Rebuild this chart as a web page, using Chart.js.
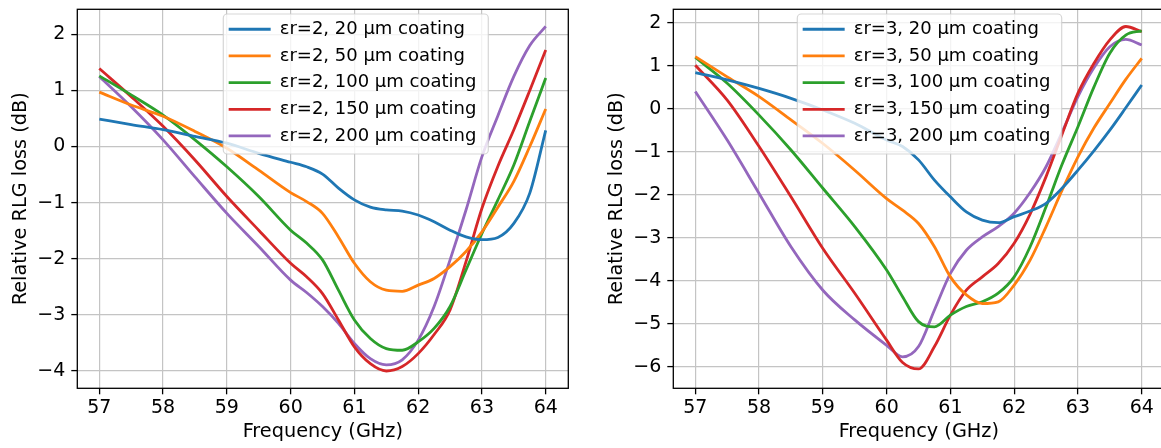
<!DOCTYPE html>
<html>
<head>
<meta charset="utf-8">
<script src="https://cdn.jsdelivr.net/npm/chart.js@4.4.1/dist/chart.umd.min.js"></script>
<style>
  html, body { margin: 0; padding: 0; background: #fff; overflow: hidden; width: 1161px; height: 448px; }
  #left { position: absolute; left: 0; top: 0; }
  #right { position: absolute; left: 580px; top: 0; }
</style>
</head>
<body>
<canvas id="left" width="580" height="448"></canvas>
<canvas id="right" width="600" height="448"></canvas>
<script>
// frequency grid (GHz), shared by both panels
const freq = [57, 57.5, 58, 58.5, 59, 59.5, 60, 60.25, 60.5, 60.75, 61, 61.25, 61.5, 61.75, 62, 62.25, 62.5, 62.75, 63, 63.25, 63.5, 63.75, 64];

// left panel, er = 2
const er2Labels = ['\u03b5r=2, 20 \u00b5m coating', '\u03b5r=2, 50 \u00b5m coating', '\u03b5r=2, 100 \u00b5m coating', '\u03b5r=2, 150 \u00b5m coating', '\u03b5r=2, 200 \u00b5m coating'];
const er2_20  = [0.49, 0.39, 0.30, 0.18, 0.06, -0.12, -0.28, -0.36, -0.49, -0.74, -0.95, -1.08, -1.13, -1.15, -1.22, -1.34, -1.49, -1.61, -1.66, -1.62, -1.37, -0.83, 0.29];
const er2_50  = [0.97, 0.74, 0.54, 0.27, -0.03, -0.42, -0.82, -0.98, -1.19, -1.61, -2.08, -2.41, -2.56, -2.58, -2.47, -2.35, -2.14, -1.87, -1.52, -1.08, -0.62, 0.0, 0.67];
const er2_100 = [1.26, 0.92, 0.56, 0.12, -0.36, -0.89, -1.49, -1.72, -2.02, -2.56, -3.09, -3.42, -3.60, -3.63, -3.48, -3.24, -2.85, -2.2, -1.55, -0.95, -0.33, 0.45, 1.22];
const er2_150 = [1.39, 0.89, 0.36, -0.24, -0.89, -1.49, -2.08, -2.32, -2.62, -3.09, -3.57, -3.87, -4.00, -3.92, -3.69, -3.35, -2.91, -2.05, -1.1, -0.35, 0.3, 1.0, 1.72];
const er2_200 = [1.25, 0.71, 0.12, -0.54, -1.19, -1.78, -2.38, -2.60, -2.85, -3.15, -3.51, -3.78, -3.89, -3.80, -3.45, -2.85, -2.02, -1.13, -0.18, 0.55, 1.25, 1.80, 2.14];

// right panel, er = 3
const er3Labels = ['\u03b5r=3, 20 \u00b5m coating', '\u03b5r=3, 50 \u00b5m coating', '\u03b5r=3, 100 \u00b5m coating', '\u03b5r=3, 150 \u00b5m coating', '\u03b5r=3, 200 \u00b5m coating'];
const er3_20  = [0.84, 0.67, 0.47, 0.24, -0.03, -0.34, -0.73, -0.88, -1.19, -1.66, -2.05, -2.40, -2.59, -2.65, -2.51, -2.38, -2.20, -1.85, -1.43, -0.98, -0.50, 0.02, 0.55];
const er3_50  = [1.21, 0.74, 0.28, -0.26, -0.81, -1.43, -2.09, -2.36, -2.67, -3.21, -3.91, -4.33, -4.53, -4.49, -4.10, -3.52, -2.74, -1.90, -1.12, -0.45, 0.12, 0.68, 1.17];
const er3_100 = [1.19, 0.59, -0.15, -0.96, -1.85, -2.74, -3.75, -4.37, -4.95, -5.07, -4.80, -4.60, -4.49, -4.29, -3.91, -3.21, -2.28, -1.30, -0.42, 0.50, 1.29, 1.71, 1.81];
const er3_150 = [1.01, 0.20, -0.88, -2.05, -3.25, -4.29, -5.38, -5.90, -6.05, -5.53, -4.80, -4.22, -3.91, -3.60, -3.13, -2.45, -1.58, -0.60, 0.36, 1.05, 1.60, 1.91, 1.79];
const er3_200 = [0.40, -0.73, -1.97, -3.21, -4.22, -4.91, -5.50, -5.77, -5.53, -4.68, -3.83, -3.29, -2.98, -2.74, -2.43, -1.95, -1.35, -0.55, 0.28, 0.95, 1.44, 1.61, 1.48];

const colors = ['#1f77b4', '#ff7f0e', '#2ca02c', '#d62728', '#9467bd'];
const FONT = 'DejaVu Sans';

// frame around the plot area + matplotlib style legend box (drawn over the lines)
const frameAndBox = {
    id: 'frameAndBox',
    beforeLayout(chart) {
        // draw the legend after the datasets, like matplotlib does
        const lg = chart.legend;
        lg._layers = () => [{ z: 1, draw: (area) => lg.draw(area) }];
    },
    afterLayout(chart, args, opts) {
        const lg = chart.legend;
        lg.left = opts.legendX;
        lg.top = opts.legendY;
        lg.right = lg.left + lg.width;
        lg.bottom = lg.top + lg.height;
    },
    afterDatasetsDraw(chart, args, opts) {
        const ctx = chart.ctx;
        const a = chart.chartArea;
        ctx.save();
        ctx.strokeStyle = '#000';
        ctx.lineWidth = 1.3;
        ctx.strokeRect(a.left, a.top, a.right - a.left, a.bottom - a.top);
        const b = opts.box;
        ctx.beginPath();
        ctx.roundRect(b.x, b.y, b.w, b.h, 4);
        ctx.fillStyle = 'rgba(255,255,255,0.8)';
        ctx.fill();
        ctx.strokeStyle = 'rgba(204,204,204,0.8)';
        ctx.lineWidth = 1.2;
        ctx.stroke();
        ctx.restore();
    }
};

function noPadding(s) {
    s.paddingTop = 0;
    s.paddingBottom = 0;
    s.paddingLeft = 0;
    s.paddingRight = 0;
}

function makeChart(id, labels, series, y, pad) {
    const ctx = document.getElementById(id).getContext('2d');
    return new Chart(ctx, {
        type: 'line',
        data: {
            datasets: series.map((s, i) => ({
                label: labels[i],
                data: freq.map((f, k) => ({ x: f, y: s[k] })),
                borderColor: colors[i],
                backgroundColor: colors[i],
                borderWidth: 2.8,
                pointRadius: 0,
                fill: false,
                cubicInterpolationMode: 'monotone'
            }))
        },
        options: {
            responsive: false,
            animation: false,
            layout: { padding: { top: 9.3, right: pad.right, bottom: 0, left: 0 } },
            scales: {
                x: {
                    type: 'linear',
                    min: 56.655,
                    max: 64.354,
                    afterFit: (s) => { s.height = 59.7; noPadding(s); },
                    border: { display: false },
                    grid: { color: '#c4c4c4', lineWidth: 1.2, tickColor: '#000', tickLength: 6, tickWidth: 1.3 },
                    ticks: { stepSize: 1, includeBounds: false, color: '#000', padding: 2, font: { family: FONT, size: 19 } },
                    title: { display: true, text: 'Frequency (GHz)', color: '#000', padding: { top: 0, bottom: 4 }, font: { family: FONT, size: 19.3 } }
                },
                y: {
                    min: y.min,
                    max: y.max,
                    afterFit: (s) => { s.width = pad.yWidth; noPadding(s); },
                    border: { display: false },
                    grid: { color: '#c4c4c4', lineWidth: 1.2, tickColor: '#000', tickLength: 6, tickWidth: 1.3 },
                    ticks: {
                        stepSize: 1, includeBounds: false, color: '#000', padding: 6,
                        font: { family: FONT, size: 19 },
                        callback: (v) => String(v).replace('-', '\u2212')
                    },
                    title: { display: true, text: 'Relative RLG loss (dB)', color: '#000', padding: { top: pad.titleTop, bottom: 0 }, font: { family: FONT, size: 19.3 } }
                }
            },
            plugins: {
                legend: {
                    position: 'chartArea',
                    align: 'start',
                    labels: {
                        usePointStyle: true,
                        pointStyle: 'line',
                        pointStyleWidth: 42,
                        padding: 8.67,
                        color: '#000',
                        font: { family: FONT, size: 18 }
                    }
                },
                tooltip: { enabled: false },
                frameAndBox: { legendX: pad.legendX, legendY: 11.6, box: pad.box }
            }
        },
        plugins: [frameAndBox]
    });
}

makeChart('left', er2Labels, [er2_20, er2_50, er2_100, er2_150, er2_200],
    { min: -4.308, max: 2.446 },
    { right: 11.7, yWidth: 77.3, titleTop: 9, legendX: 220, box: { x: 223.3, y: 14, w: 265, h: 140 } });

makeChart('right', er3Labels, [er3_20, er3_50, er3_100, er3_150, er3_200],
    { min: -6.50, max: 2.31 },
    { right: 15.7, yWidth: 93.3, titleTop: 25, legendX: 214, box: { x: 217.3, y: 14, w: 264.4, h: 140 } });
</script>
</body>
</html>
